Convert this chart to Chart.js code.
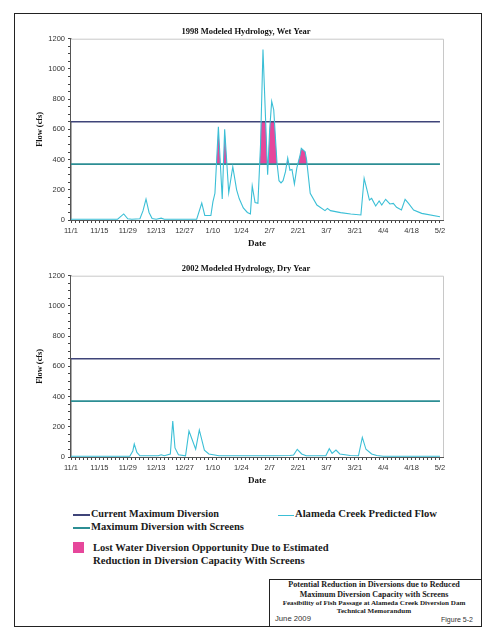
<!DOCTYPE html>
<html>
<head>
<meta charset="utf-8">
<script src="https://cdn.jsdelivr.net/npm/chart.js@4.4.1/dist/chart.umd.min.js"></script>
<style>
  body { margin: 0; background: #fff; width: 495px; height: 640px; position: relative; overflow: hidden; }
  canvas { position: absolute; left: 0; }
  #frame { position: absolute; left: 14px; top: 13px; width: 466px; height: 612px; border: 1.5px solid #222; }
  #footbox { position: absolute; left: 269px; top: 579px; width: 212px; height: 47px; border-left: 1.5px solid #222; border-top: 1.5px solid #222; }
  .t { position: absolute; white-space: nowrap; line-height: 1; color: #1a1a1a; font-family: "Liberation Serif", serif; font-weight: bold; }
  .t.sans { font-family: "Liberation Sans", Arial, sans-serif; font-weight: normal; color: #333; }
  .swatch { position: absolute; height: 2px; }
</style>
</head>
<body>
<div id="frame"></div>
<canvas id="wet" width="495" height="250" style="top:0"></canvas>
<canvas id="dry" width="495" height="245" style="top:250px"></canvas>

<div class="swatch" style="left:73px;top:514px;width:17px;background:#3f4479"></div>
<div class="t" data-x="91" data-y="515" data-w="128">Current Maximum Diversion</div>
<div class="swatch" style="left:73px;top:527px;width:17px;background:#2c8e94"></div>
<div class="t" data-x="91" data-y="528" data-w="153">Maximum Diversion with Screens</div>
<div class="swatch" style="left:278px;top:514.5px;width:16px;height:1px;background:#3bbfd6"></div>
<div class="t" data-x="295" data-y="515" data-w="142">Alameda Creek Predicted Flow</div>
<div style="position:absolute;left:73px;top:542px;width:11px;height:11px;background:#e6479b"></div>
<div class="t" data-x="93" data-y="549" data-w="236">Lost Water Diversion Opportunity Due to Estimated</div>
<div class="t" data-x="93" data-y="561" data-w="212">Reduction in Diversion Capacity With Screens</div>

<div id="footbox"></div>
<div class="t" data-cx="374" data-y="585" data-w="172">Potential Reduction in Diversions due to Reduced</div>
<div class="t" data-cx="374" data-y="595.5" data-w="149">Maximum Diversion Capacity with Screens</div>
<div class="t" id="foot3" data-cx="374" data-y="604" data-w="183">Feasibility of Fish Passage at Alameda Creek Diversion Dam</div>
<div class="t" data-cx="374" data-y="611.5" data-like="foot3">Technical Memorandum</div>
<div class="t sans" data-x="275" data-y="619.5" data-w="36">June 2009</div>
<div class="t sans" data-rx="473" data-y="619.5" data-w="32">Figure 5-2</div>

<script>
// date tick labels, one every 14 days from 11/1
const dateLabels = ['11/1', '11/15', '11/29', '12/13', '12/27', '1/10', '1/24', '2/7', '2/21', '3/7', '3/21', '4/4', '4/18', '5/2'];

// 1998 wet year: day after 11/1, flow (cfs)
const wetDays = [0, 23, 26, 28, 30, 34, 35.5, 37, 38.5, 40, 42, 44.5, 46, 62, 64.5, 66, 69, 70, 71, 72.7,
  74.6, 75.8, 77.8, 79.8, 81.7, 83, 85, 87, 88.5, 89.4, 90.8, 92.2, 93.5, 94.7, 96, 97, 98, 99, 100,
  101.6, 102.6, 103.6, 104.6, 105.8, 106.9, 108, 109, 110.2, 111.4, 113, 113.6, 115.5, 116.2, 118,
  121.3, 125.3, 126.5, 128, 133, 138, 143, 144.6, 146, 147.2, 148.3, 150.3, 152, 153.3, 155.2, 157.3,
  159, 160.6, 163, 164.8, 166.5, 169, 173, 182];
const wetFlow = [5, 5, 40, 8, 5, 8, 60, 139, 50, 10, 5, 12, 5, 5, 112, 30, 30, 120, 177, 617,
  139, 600, 180, 353, 200, 140, 80, 50, 40, 225, 115, 110, 500, 1128, 660, 300, 600, 785, 730,
  380, 260, 245, 260, 320, 410, 330, 335, 238, 345, 430, 474, 452, 400, 177,
  99, 62, 77, 62, 49, 40, 33, 276, 199, 132, 143, 93, 126, 99, 137, 106,
  110, 84, 66, 137, 110, 66, 44, 22];

// 2002 dry year
const dryDays = [0, 29, 30.5, 31.2, 32.5, 34, 43, 44.5, 46, 49, 50.2, 51.3, 53, 56.5, 58.2, 61.5, 63.3,
  65.8, 68, 73, 100, 108, 109.8, 111.6, 113.8, 116, 125.7, 127.4, 128.8, 130.7, 132.6, 137.7, 141.8,
  143.7, 145.5, 148.3, 150.8, 154, 182];
const dryFlow = [5, 5, 40, 86, 30, 8, 8, 15, 8, 20, 238, 60, 15, 8, 172, 52, 179,
  45, 20, 8, 8, 10, 13, 51, 20, 8, 8, 55, 24, 46, 20, 10, 8,
  130, 51, 20, 10, 5, 5];

const currentMax = 650;
const screenMax = 370;
const lastDay = 182;

// size legend / footer text to the widths seen in the figure
const texts = Array.from(document.querySelectorAll('.t'));
texts.forEach(el => {
  if (!el.dataset.w) return;
  el.style.fontSize = '20px';
  el.dataset.size = 20 * el.dataset.w / el.getBoundingClientRect().width;
});
texts.forEach(el => {
  const size = el.dataset.like ? +document.getElementById(el.dataset.like).dataset.size : +el.dataset.size;
  el.style.fontSize = size + 'px';
  el.style.top = (el.dataset.y - size * 0.55) + 'px';
  const w = el.getBoundingClientRect().width;
  if (el.dataset.x) el.style.left = el.dataset.x + 'px';
  if (el.dataset.cx) el.style.left = (el.dataset.cx - w / 2) + 'px';
  if (el.dataset.rx) el.style.left = (el.dataset.rx - w) + 'px';
});

const mctx = document.createElement('canvas').getContext('2d');
function fitSize(text, family, weight, width) {
  mctx.font = weight + ' 20px ' + family;
  return 20 * width / mctx.measureText(text).width;
}

function pts(days, vals) { return days.map((d, i) => ({x: d, y: vals[i]})); }
function flat(v) { return [{x: 0, y: v}, {x: lastDay, y: v}]; }

const serif = '"Liberation Serif"';
const sans = '"Liberation Sans"';

// light frame on top/right of plot plus the chart heading
const plotBox = {
  id: 'plotBox',
  afterDatasetsDraw(chart, args, opts) {
    const {ctx, chartArea: a} = chart;
    ctx.save();
    ctx.strokeStyle = '#c8c8c8';
    ctx.lineWidth = 1;
    ctx.beginPath();
    ctx.moveTo(a.left, a.top + 0.5);
    ctx.lineTo(a.right + 0.5, a.top + 0.5);
    ctx.lineTo(a.right + 0.5, a.bottom);
    ctx.stroke();
    ctx.fillStyle = '#111';
    ctx.font = 'bold ' + fitSize(opts.text, serif, 'bold', 129) + 'px ' + serif;
    ctx.textAlign = 'center';
    ctx.textBaseline = 'middle';
    ctx.fillText(opts.text, 246, opts.y);
    ctx.restore();
  }
};

function makeChart(id, title, days, flow, g) {
  const dSize = fitSize('Date', serif, 'bold', 18);
  const fSize = fitSize('Flow (cfs)', serif, 'bold', 35);
  return new Chart(document.getElementById(id), {
    type: 'line',
    data: {
      datasets: [
        { data: pts(days, flow), borderColor: '#3bbfd6', borderWidth: 1.1, pointRadius: 0, fill: false, order: 1 },
        { data: flat(currentMax), borderColor: '#3f4479', borderWidth: 1.6, pointRadius: 0, fill: false, order: 2 },
        { data: flat(screenMax), borderColor: '#2c8e94', borderWidth: 1.6, pointRadius: 0, fill: false, order: 3 },
        // white cover above current max so the pink stops there
        { data: flat(currentMax), borderWidth: 0, borderColor: 'rgba(0,0,0,0)', pointRadius: 0,
          fill: 'end', backgroundColor: '#ffffff', order: 4 },
        // lost diversion: flow above the screened max
        { data: pts(days, flow), borderWidth: 0, borderColor: 'rgba(0,0,0,0)', pointRadius: 0,
          fill: { target: { value: screenMax }, above: '#e6479b', below: 'rgba(0,0,0,0)' }, order: 5 }
      ]
    },
    options: {
      responsive: false,
      animation: false,
      events: [],
      layout: { padding: { left: 0, right: 52, top: g.areaTop, bottom: 0 } },
      plugins: {
        legend: { display: false },
        tooltip: { enabled: false },
        plotBox: { text: title, y: g.titleY }
      },
      scales: {
        x: {
          type: 'linear', min: 0, max: 183.5,
          afterFit: s => { s.height = g.xHeight; },
          ticks: {
            stepSize: 2, autoSkip: false, includeBounds: false, maxRotation: 0, padding: 3.5,
            color: '#333', font: { family: sans, size: 7.5, lineHeight: 1.2 },
            callback: v => (v % 14 === 0 ? dateLabels[v / 14] : '')
          },
          grid: { drawOnChartArea: false, tickLength: 3, tickColor: '#444' },
          border: { display: true, color: '#555', width: 1 },
          title: {
            display: true, text: 'Date', color: '#111',
            font: { family: serif, weight: 'bold', size: dSize, lineHeight: 1.2 },
            padding: { top: 0, bottom: g.dateY - dSize * 0.6 }
          }
        },
        y: {
          min: 0, max: 1200,
          afterFit: s => { s.width = 71; },
          ticks: {
            stepSize: 50, autoSkip: false, padding: 3,
            color: '#333', font: { family: sans, size: 7.5 },
            callback: v => (v % 200 === 0 ? String(v) : '')
          },
          grid: { drawOnChartArea: false, tickLength: 3, tickColor: '#444' },
          border: { display: true, color: '#555', width: 1.5 },
          title: {
            display: true, text: 'Flow (cfs)', color: '#111',
            font: { family: serif, weight: 'bold', size: fSize, lineHeight: 1.2 },
            padding: { top: 40 - fSize * 0.6, bottom: 0 }
          }
        }
      }
    },
    plugins: [plotBox]
  });
}

// dateY: distance of the "Date" centre above the canvas bottom
makeChart('wet', '1998 Modeled Hydrology, Wet Year', wetDays, wetFlow,
  { titleY: 32, areaTop: 38.7, xHeight: 30, dateY: 6 });
makeChart('dry', '2002 Modeled Hydrology, Dry Year', dryDays, dryFlow,
  { titleY: 19, areaTop: 25.7, xHeight: 38, dateY: 14.3 });
</script>
</body>
</html>
